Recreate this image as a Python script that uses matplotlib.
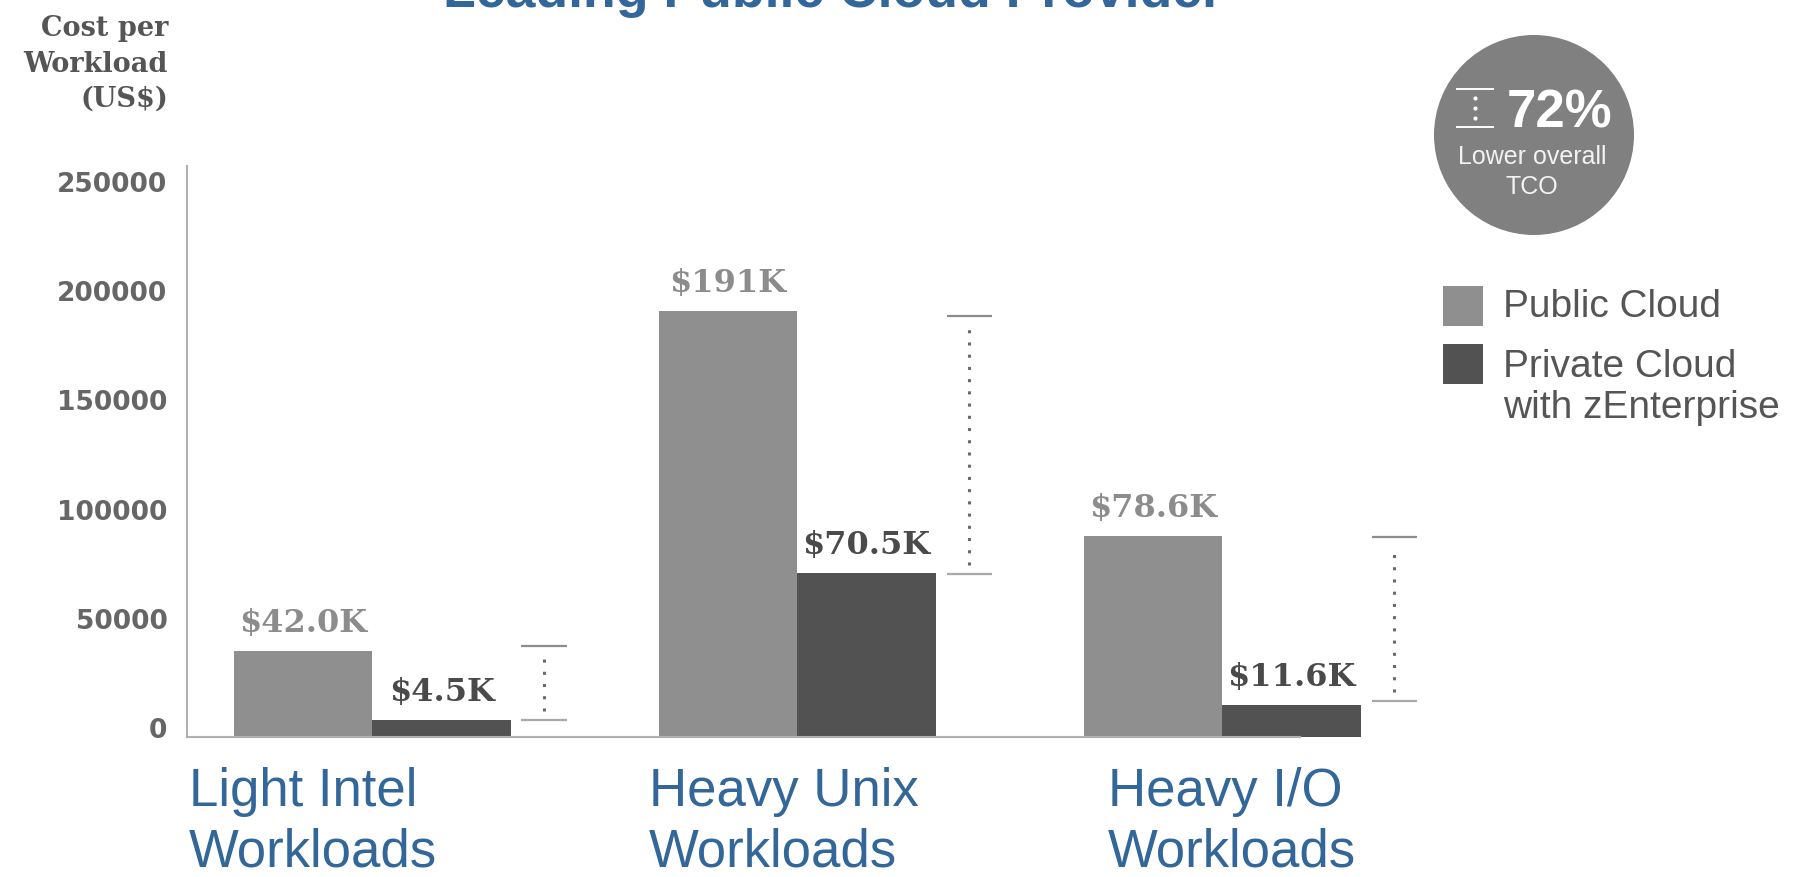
import matplotlib
matplotlib.use("Agg")
import matplotlib.pyplot as plt
from matplotlib.patches import Circle, Rectangle
from matplotlib.lines import Line2D
import numpy as np

# ---- data ----
categories = ["Light Intel\nWorkloads", "Heavy Unix\nWorkloads", "Heavy I/O\nWorkloads"]
series_names = ["Public Cloud", "Private Cloud\nwith zEnterprise"]
public_cost = [39400, 195000, 92000]
private_cost = [7800, 75100, 14650]
public_labels = ["$42.0K", "$191K", "$78.6K"]
private_labels = ["$4.5K", "$70.5K", "$11.6K"]
gap_high = [41700, 192800, 91600]
gap_low = [7800, 74600, 16500]
y_ticks = [0, 50000, 100000, 150000, 200000, 250000]
y_tick_labels = ["0", "50000", "100000", "150000", "200000", "250000"]
title = "Leading Public Cloud Provider"
y_title = "Cost per\nWorkload\n(US$)"
badge_value = "72%"
badge_text = "Lower overall\nTCO"

# ---- layout ----
W, H = 1796, 878
fig = plt.figure(figsize=(W / 100, H / 100), dpi=100)
fig.patch.set_facecolor("white")


def fx(p):
    return p / W


def fy(p):
    return 1 - p / H


PUB_C = "#8f8f8f"
PRIV_C = "#525252"
BLUE = "#336699"
SANS = ["Liberation Sans", "DejaVu Sans"]
SERIF = ["DejaVu Serif"]

ax = fig.add_axes([fx(187), fy(738), fx(1420) - fx(187), fy(167) - fy(738)])
x = np.arange(len(categories))
w = 0.326
ax.bar(x - w / 2, public_cost, w, color=PUB_C, linewidth=0)
ax.bar(x + w / 2, private_cost, w, color=PRIV_C, linewidth=0)
ax.set_xlim(-0.436, 2.465)
ax.set_ylim(0, 261400)

for xi, v, lbl in zip(x - w / 2, public_cost, public_labels):
    ax.annotate(lbl, (xi, v), xytext=(0, 14.5), textcoords="offset points",
                ha="center", va="baseline", fontsize=23, fontweight="bold",
                family=SERIF, color="#8c8c8c", parse_math=False)
for xi, v, lbl in zip(x + w / 2, private_cost, private_labels):
    ax.annotate(lbl, (xi, v), xytext=(0, 14.5), textcoords="offset points",
                ha="center", va="baseline", fontsize=23, fontweight="bold",
                family=SERIF, color="#4a4a4a", parse_math=False)

# gap brackets
bx = x + 0.405
half = 0.054
pad = 261400 / 571 * 9
ax.hlines(gap_high, bx - half, bx + half, colors="#8c8c8c", lw=1.6, clip_on=False)
ax.hlines(gap_low, bx - half, bx + half, colors="#a8a8a8", lw=1.6, clip_on=False)
ax.vlines(bx, np.array(gap_low) + pad, np.array(gap_high) - pad, colors="#6a6a6a",
          lw=2.2, linestyles=(0, (1, 3)), clip_on=False)

# axes styling
for s in ["top", "right"]:
    ax.spines[s].set_visible(False)
for s in ["left", "bottom"]:
    ax.spines[s].set_color("#b0b0b0")
    ax.spines[s].set_linewidth(1.5)
ax.spines["bottom"].set_bounds(-0.436, 2.183)
ax.set_xticks([])
ax.set_yticks(y_ticks)
ax.set_yticklabels(y_tick_labels, fontsize=19, fontweight="bold", color="#666666",
                   family=["DejaVu Sans"])
for t in ax.get_yticklabels():
    t.set_va("baseline")
ax.tick_params(axis="y", length=0, pad=14)
ax.set_facecolor("none")

# category labels
cat_x_px = [189, 649, 1108]
for cx, cat in zip(cat_x_px, categories):
    fig.text(fx(cx), fy(767), cat, ha="left", va="top", fontsize=38,
             color=BLUE, family=SANS, linespacing=1.26)

# title (clipped at top)
fig.text(fx(833), fy(7), title, ha="center", va="baseline", fontsize=38.5,
         fontweight="bold", color=BLUE, family=SANS)

# y title
fig.text(fx(168), fy(64), y_title, ha="right", va="center", multialignment="right",
         family=SERIF, fontsize=19.5, fontweight="bold", color="#555555",
         parse_math=False, linespacing=1.4)

# badge
fig.add_artist(Circle((15.34, (H - 136) / 100), 1.0, transform=fig.dpi_scale_trans,
                      facecolor="#808080", edgecolor="none"))
for yy in (90, 128):
    fig.add_artist(Line2D([fx(1457), fx(1493)], [fy(yy), fy(yy)],
                          transform=fig.transFigure, color="white", lw=1.4))
fig.add_artist(Line2D([fx(1475)] * 3, [fy(99), fy(109), fy(119)],
                      transform=fig.transFigure, color="white", lw=0,
                      marker="o", markersize=3, markeredgewidth=0))
fig.text(fx(1507), fy(127), badge_value, ha="left", va="baseline", fontsize=38,
         fontweight="bold", color="white", family=SANS)
fig.text(fx(1532), fy(172), badge_text, ha="center", va="center", fontsize=18,
         color="#f2f2f2", family=SANS, linespacing=1.35)

# legend
fig.add_artist(Rectangle((fx(1443), fy(327)), 40 / W, 40 / H, transform=fig.transFigure,
                         facecolor=PUB_C, edgecolor="none"))
fig.add_artist(Rectangle((fx(1443), fy(385)), 40 / W, 40 / H, transform=fig.transFigure,
                         facecolor=PRIV_C, edgecolor="none"))
fig.text(fx(1503), fy(307), series_names[0], ha="left", va="center", fontsize=28,
         color="#555555", family=SANS)
fig.text(fx(1503), fy(387.5), series_names[1], ha="left", va="center", fontsize=28,
         color="#555555", family=SANS, linespacing=1.2)

fig.savefig("out.png", dpi=100)
